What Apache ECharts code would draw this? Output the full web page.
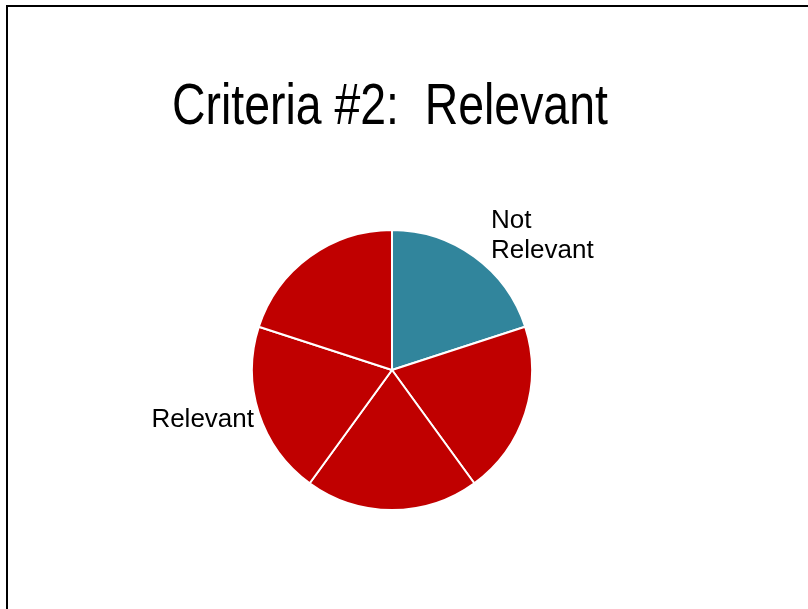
<!DOCTYPE html>
<html>
<head>
<meta charset="utf-8">
<script src="https://cdn.jsdelivr.net/npm/echarts@6/dist/echarts.min.js"></script>
<style>
	html,
	body {
		margin: 0;
		padding: 0;
		background: #fff;
	}
	.slide {
		position: relative;
		width: 808px;
		height: 609px;
		overflow: hidden;
	}
	.slide::before {
		content: "";
		position: absolute;
		left: 6px;
		top: 5px;
		right: -10px;
		bottom: -10px;
		border-left: 2px solid #000;
		border-top: 2px solid #000;
		z-index: 2;
		pointer-events: none;
	}
	.pie_data {
		width: 808px;
		height: 609px;
	}
</style>
</head>
<body>
<div class="slide">
	<div class="pie_data"></div>
</div>
<script>
// one pie, five equal slices
const titleText = "Criteria #2:  Relevant";
const sliceNames = ["Not Relevant", "Relevant", "Relevant", "Relevant", "Relevant"];
const sliceValues = [1, 1, 1, 1, 1];
const sliceColors = ["#31859C", "#C00000", "#C00000", "#C00000", "#C00000"];
const labelFont = '"Liberation Sans", Arial, sans-serif';

let myPie = echarts.init(document.getElementsByClassName("pie_data")[0]);

myPie.setOption({
	animation: false,
	// title drawn as graphic text so it can be squeezed like the narrow slide font
	graphic: [
		{
			type: "text",
			x: 172,
			y: 108,
			scaleX: 0.8,
			style: {
				text: titleText,
				font: "58px " + labelFont,
				fill: "#000",
				align: "left",
				verticalAlign: "middle"
			}
		}
	],
	series: [
		{
			type: "pie",
			center: [392, 370],
			radius: 140,
			startAngle: 90,
			clockwise: true,
			itemStyle: {
				borderColor: "#fff",
				borderWidth: 2
			},
			label: { show: false },
			labelLine: { show: false },
			labelLayout: function (p) {
				if (p.dataIndex === 0) {
					return { x: 491, y: 206, align: "left", verticalAlign: "top" };
				}
				if (p.dataIndex === 3) {
					return { x: 254, y: 420, align: "right", verticalAlign: "middle" };
				}
			},
			data: sliceValues.map(function (v, i) {
				let item = {
					name: sliceNames[i],
					value: v,
					itemStyle: { color: sliceColors[i] }
				};
				if (i === 0 || i === 3) {
					item.label = {
						show: true,
						position: "outside",
						formatter: i === 0 ? "Not\nRelevant" : "Relevant",
						fontFamily: labelFont,
						fontSize: 26,
						lineHeight: 30,
						color: "#000"
					};
				}
				return item;
			})
		}
	]
});
</script>
</body>
</html>
